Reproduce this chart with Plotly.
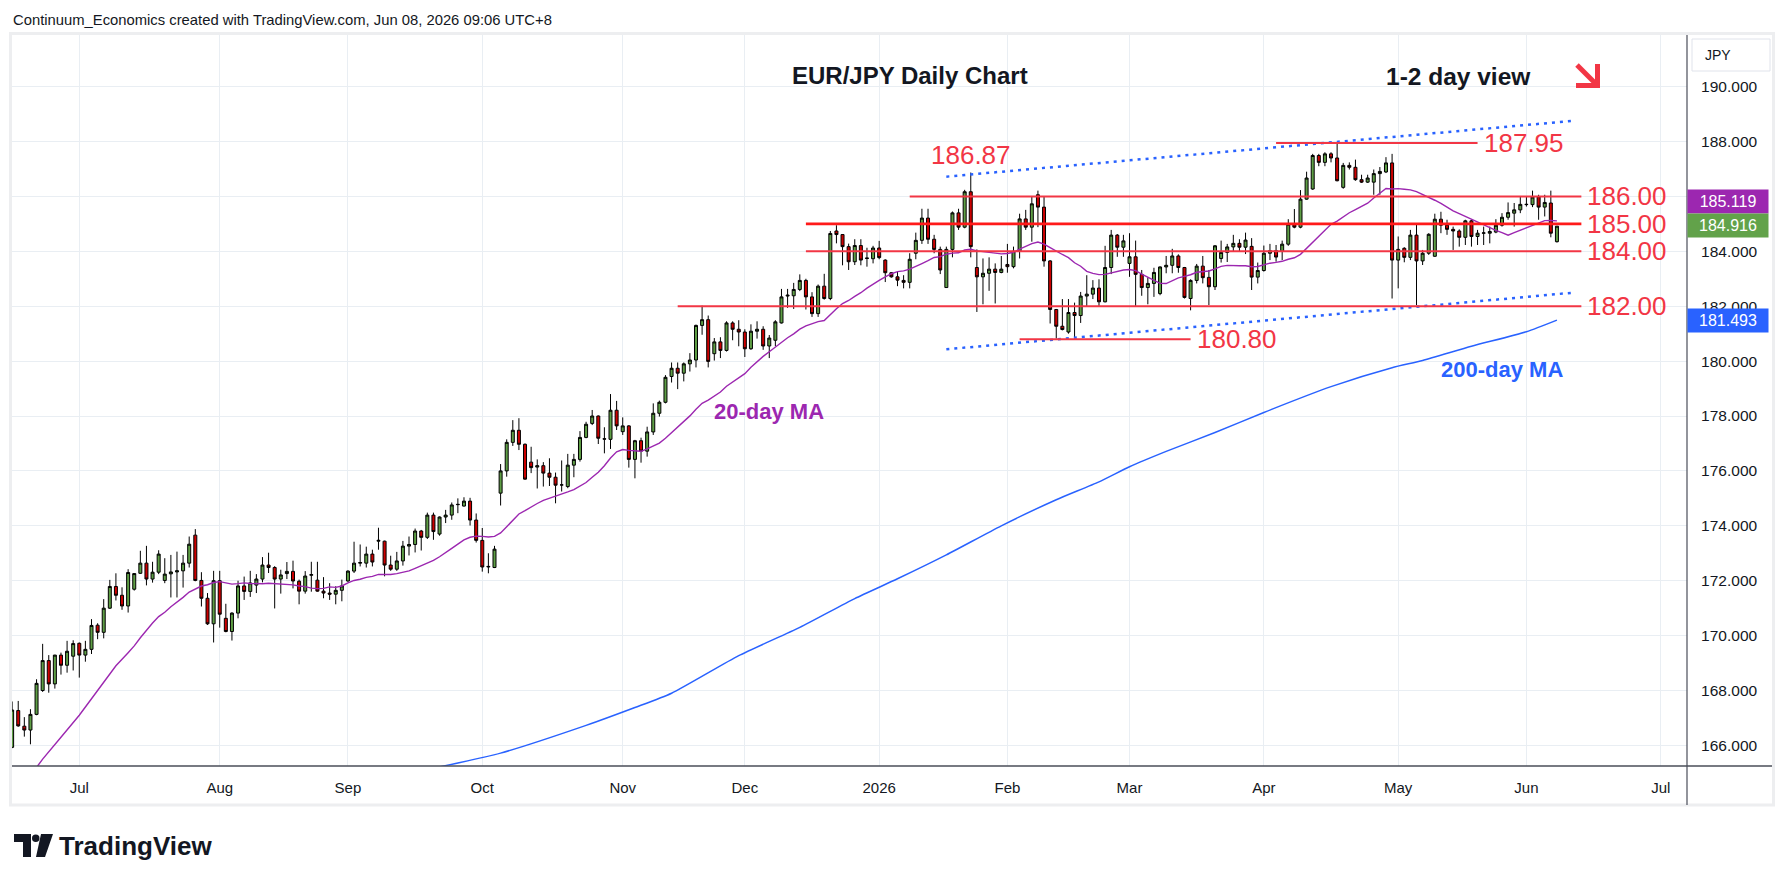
import numpy as np
import pandas as pd
import plotly.graph_objects as go

FONT = "Liberation Sans, Arial, sans-serif"
W, H = 1787, 881
OFF = 8                              # browser body margin
PL, PR, PT, PB = 12, 1687, 35, 766   # plot area in page pixels

# ---------------- data ----------------
first_day = "2025-06-16"
last_day = "2026-06-08"
axis_end_day = "2026-07-10"
holidays = ["2025-12-25", "2026-01-01"]

open_ = [165.93, 167.27, 166.70, 166.56, 167.13, 168.00, 169.09, 168.24, 169.29, 168.92,
         169.25, 169.72, 169.29, 169.50, 170.38, 170.12, 171.00, 171.79, 171.47, 171.08,
         171.69, 172.27, 172.64, 172.06, 172.31, 172.01, 172.25, 172.32, 172.36, 172.64,
         173.66, 172.01, 171.36, 170.43, 172.00, 170.63, 170.15, 170.82, 171.81, 171.61,
         171.84, 172.06, 172.57, 172.48, 172.06, 172.26, 172.34, 171.98, 171.62, 172.20,
         172.02, 171.62, 171.55, 171.51, 171.65, 171.99, 172.35, 172.64, 172.64, 172.97,
         173.44, 173.44, 172.57, 172.42, 172.72, 173.26, 173.32, 173.81, 173.58, 174.39,
         173.70, 174.32, 174.39, 174.77, 174.72, 174.90, 174.21, 173.47, 172.50, 172.48,
         175.19, 176.00, 177.04, 177.48, 176.97, 176.32, 176.14, 176.19, 175.92, 175.77,
         175.49, 175.43, 176.21, 176.42, 177.22, 177.73, 178.00, 177.17, 177.15, 178.21,
         177.43, 177.64, 176.42, 177.10, 176.72, 177.42, 178.10, 178.50, 179.44, 179.74,
         179.56, 179.90, 180.04, 181.30, 181.51, 180.27, 180.70, 180.39, 181.39, 181.16,
         181.06, 180.45, 181.09, 181.16, 180.55, 180.76, 181.39, 182.37, 182.38, 182.61,
         182.94, 182.34, 181.73, 182.73, 182.28, 184.74, 184.61, 184.17, 183.62, 184.21,
         183.76, 183.73, 184.12, 183.68, 183.22, 183.07, 182.94, 182.87, 183.93, 184.40,
         185.21, 184.44, 184.07, 182.68, 184.07, 185.40, 184.88, 186.17, 183.41, 183.07,
         183.20, 183.35, 183.23, 183.52, 183.44, 184.00, 185.18, 184.88, 186.06, 185.61,
         183.65, 181.88, 181.27, 181.06, 181.77, 181.66, 182.37, 182.44, 182.66, 182.16,
         183.41, 184.59, 184.15, 183.56, 183.80, 183.16, 182.68, 182.83, 182.46, 183.43,
         183.49, 183.83, 183.41, 182.28, 182.94, 183.46, 183.05, 182.71, 183.74, 183.96,
         184.16, 184.29, 184.15, 184.18, 183.06, 183.30, 183.93, 184.02, 184.00, 184.26,
         184.99, 184.88, 185.90, 186.27, 187.49, 187.24, 187.55, 187.40, 186.33, 187.13,
         187.06, 186.61, 186.52, 186.52, 186.83, 186.89, 187.22, 183.68, 184.11, 183.78,
         184.59, 183.65, 183.93, 183.82, 185.17, 184.95, 184.80, 184.74, 184.51, 185.11,
         184.54, 184.66, 184.66, 184.70, 184.95, 185.24, 185.39, 185.51, 185.70, 185.70,
         185.98, 185.61, 185.76, 184.35]
high = [167.60, 167.62, 167.03, 167.32, 168.41, 169.70, 169.29, 169.30, 169.38, 169.81,
        169.83, 169.75, 169.81, 170.60, 170.45, 171.33, 172.03, 172.27, 171.76, 172.42,
        172.27, 173.09, 173.27, 172.69, 173.11, 172.82, 172.94, 173.06, 172.94, 173.61,
        173.88, 172.31, 171.55, 172.36, 172.36, 171.16, 170.85, 172.00, 172.15, 172.36,
        172.24, 172.86, 173.02, 172.53, 172.40, 172.68, 172.73, 172.04, 172.35, 172.69,
        172.69, 172.13, 171.91, 171.80, 172.04, 172.38, 173.42, 173.32, 173.24, 173.13,
        173.93, 173.46, 172.91, 173.05, 173.45, 173.61, 173.90, 173.85, 174.48, 174.48,
        174.34, 174.58, 174.85, 175.00, 175.04, 175.02, 174.45, 173.92, 173.00, 173.27,
        176.25, 177.15, 177.85, 177.92, 177.00, 176.88, 176.42, 176.32, 176.46, 175.94,
        176.38, 176.62, 176.62, 177.45, 177.79, 178.22, 178.02, 177.59, 178.80, 178.55,
        177.95, 177.67, 177.13, 177.21, 177.61, 178.46, 178.56, 179.49, 179.95, 179.95,
        179.95, 180.29, 181.33, 182.02, 181.66, 180.84, 180.87, 181.45, 181.45, 181.49,
        181.16, 181.34, 181.45, 181.27, 180.95, 181.49, 182.63, 182.63, 182.85, 183.16,
        183.00, 182.51, 182.79, 183.18, 184.74, 184.95, 184.62, 184.28, 184.44, 184.44,
        184.13, 184.20, 184.38, 183.71, 183.24, 183.26, 183.13, 183.93, 184.68, 185.55,
        185.55, 184.60, 184.17, 184.17, 185.45, 185.55, 186.24, 186.87, 184.07, 183.74,
        183.78, 183.56, 183.83, 184.27, 184.17, 185.37, 185.51, 186.00, 186.21, 186.00,
        183.68, 181.90, 182.26, 182.26, 182.13, 182.52, 183.13, 182.95, 182.98, 184.20,
        184.78, 184.63, 184.60, 184.66, 184.39, 183.32, 183.05, 183.40, 183.45, 183.83,
        184.09, 183.89, 183.43, 182.98, 183.54, 183.83, 183.32, 184.23, 184.39, 184.27,
        184.60, 184.44, 184.68, 184.48, 183.59, 184.21, 184.27, 184.23, 184.39, 185.17,
        185.54, 186.23, 186.90, 187.55, 187.55, 187.61, 187.61, 187.95, 187.22, 187.24,
        187.34, 186.79, 186.79, 186.98, 187.07, 187.43, 187.55, 184.54, 184.15, 184.78,
        185.02, 184.05, 184.66, 185.37, 185.44, 185.15, 184.90, 184.80, 185.15, 185.15,
        184.78, 184.90, 184.90, 185.17, 185.39, 185.78, 185.76, 185.98, 186.00, 186.21,
        186.06, 186.06, 186.21, 184.92]
low = [165.90, 166.68, 166.32, 166.04, 167.10, 167.95, 167.92, 168.07, 168.58, 168.65,
       168.73, 168.47, 169.05, 169.33, 169.87, 169.90, 170.97, 171.28, 170.94, 170.84,
       171.64, 172.25, 171.83, 171.93, 172.24, 171.91, 171.39, 171.39, 171.75, 172.48,
       171.98, 171.06, 170.39, 169.75, 170.29, 170.12, 169.82, 170.63, 171.30, 171.41,
       171.55, 171.94, 172.28, 170.99, 171.53, 172.06, 171.72, 171.14, 171.53, 171.60,
       171.60, 171.36, 171.30, 171.14, 171.25, 171.96, 172.28, 172.52, 172.48, 172.52,
       173.13, 172.16, 172.36, 172.36, 172.55, 172.92, 173.03, 173.10, 173.52, 173.49,
       173.64, 174.10, 174.22, 174.46, 174.70, 174.01, 173.39, 172.33, 172.27, 172.46,
       174.74, 175.79, 176.91, 176.76, 175.68, 175.92, 175.36, 175.43, 175.45, 174.82,
       175.25, 175.37, 175.77, 176.34, 177.19, 177.67, 176.98, 176.64, 176.80, 177.49,
       177.31, 176.12, 175.73, 176.30, 176.52, 177.31, 177.98, 178.46, 179.22, 178.98,
       179.26, 179.62, 179.77, 180.96, 179.77, 180.02, 180.11, 180.35, 180.76, 180.54,
       180.15, 180.41, 180.82, 180.41, 180.11, 180.54, 181.37, 181.94, 181.90, 182.55,
       181.88, 181.61, 181.61, 182.24, 182.22, 184.29, 183.49, 183.32, 183.50, 183.49,
       183.44, 183.56, 183.71, 182.88, 183.04, 182.73, 182.65, 182.65, 183.71, 184.27,
       184.27, 183.93, 183.17, 182.68, 183.78, 184.78, 184.84, 183.78, 181.79, 182.07,
       182.56, 182.10, 183.20, 183.22, 183.38, 183.74, 184.78, 184.35, 184.88, 183.44,
       181.37, 180.82, 181.12, 181.00, 180.82, 181.39, 182.00, 182.26, 181.98, 182.14,
       183.17, 183.80, 183.80, 183.07, 182.01, 182.38, 182.07, 182.34, 182.40, 183.20,
       183.20, 183.22, 182.28, 181.85, 182.83, 182.83, 182.04, 182.59, 183.59, 183.61,
       183.99, 183.99, 183.90, 182.59, 182.83, 183.26, 183.68, 183.62, 183.68, 184.20,
       184.84, 184.84, 185.88, 186.24, 187.10, 187.10, 187.24, 186.55, 186.28, 186.98,
       186.57, 186.49, 186.49, 186.06, 186.06, 186.85, 182.28, 182.65, 183.60, 183.68,
       182.04, 183.50, 183.87, 183.80, 184.66, 184.60, 184.05, 184.17, 184.23, 184.17,
       184.23, 184.23, 184.29, 184.66, 184.90, 185.15, 184.90, 185.39, 185.63, 185.61,
       185.15, 185.27, 184.51, 184.32]
close = [167.29, 166.71, 166.56, 167.13, 168.26, 169.09, 168.24, 169.29, 168.92, 169.43,
         169.71, 169.29, 169.50, 170.37, 170.12, 171.00, 171.79, 171.47, 171.08, 172.30,
         172.26, 172.64, 172.06, 172.31, 172.97, 172.24, 172.32, 172.36, 172.64, 173.33,
         172.01, 171.36, 170.43, 172.00, 170.78, 170.15, 170.82, 171.81, 171.61, 171.92,
         172.06, 172.57, 172.48, 172.06, 172.21, 172.34, 171.99, 171.62, 172.17, 172.22,
         171.62, 171.55, 171.51, 171.65, 171.81, 172.35, 172.64, 172.66, 172.97, 172.68,
         173.47, 172.57, 172.42, 172.72, 173.26, 173.32, 173.81, 173.58, 174.39, 173.79,
         174.32, 174.39, 174.76, 174.78, 174.90, 174.21, 173.47, 172.50, 172.52, 173.15,
         176.00, 177.04, 177.48, 176.97, 175.70, 176.12, 176.19, 175.92, 175.77, 175.48,
         175.49, 176.21, 176.42, 177.22, 177.70, 178.00, 177.19, 177.16, 178.21, 177.64,
         177.64, 176.42, 177.10, 176.72, 177.42, 178.10, 178.50, 179.41, 179.74, 179.56,
         179.90, 180.04, 181.30, 181.51, 179.99, 180.70, 180.39, 181.39, 181.16, 181.06,
         180.45, 181.09, 181.16, 180.55, 180.84, 181.43, 182.34, 182.40, 182.61, 182.94,
         182.34, 181.73, 182.73, 182.28, 184.65, 184.61, 184.17, 183.62, 184.21, 183.68,
         183.74, 184.12, 183.77, 183.22, 183.07, 182.95, 182.87, 183.71, 184.40, 185.21,
         184.44, 184.07, 183.32, 184.07, 185.40, 184.88, 186.17, 184.17, 183.07, 183.20,
         183.35, 183.23, 183.35, 183.44, 184.00, 185.18, 184.88, 185.73, 185.61, 183.65,
         181.88, 181.27, 181.15, 181.77, 181.66, 182.37, 182.44, 182.66, 182.16, 183.41,
         184.59, 184.15, 184.38, 183.80, 183.16, 182.68, 182.83, 183.23, 183.43, 183.49,
         183.83, 183.41, 182.32, 182.94, 183.46, 183.04, 182.71, 184.20, 183.96, 184.16,
         184.29, 184.15, 184.41, 183.06, 183.30, 183.93, 184.02, 183.79, 184.26, 184.99,
         184.88, 185.90, 186.67, 187.49, 187.24, 187.55, 187.40, 186.57, 187.13, 187.06,
         186.61, 186.52, 186.67, 186.83, 186.91, 187.22, 183.68, 184.07, 183.78, 184.59,
         183.65, 183.93, 184.62, 185.17, 184.95, 184.80, 184.74, 184.51, 185.11, 184.54,
         184.66, 184.67, 184.72, 184.95, 185.24, 185.41, 185.51, 185.71, 185.71, 185.98,
         185.61, 185.78, 184.66, 184.916]

# 20-day MA: values for the first bars (history before the window)
ma20_early_dates = ["2025-06-18", "2025-06-23", "2025-06-26", "2025-07-01", "2025-07-04", "2025-07-09"]
ma20_early_values = [164.6, 165.5, 166.3, 167.1, 168.0, 168.9]
ma20_last_label = 185.119

# 200-day MA
ma200_dates = ["2025-09-19", "2025-10-06", "2025-10-24", "2025-11-05", "2025-11-13", "2025-11-28",
               "2025-12-12", "2025-12-26", "2026-01-07", "2026-01-19", "2026-01-30", "2026-02-12",
               "2026-02-23", "2026-03-02", "2026-03-10", "2026-03-20", "2026-04-01", "2026-04-16",
               "2026-04-30", "2026-05-07", "2026-05-19", "2026-06-01", "2026-06-08"]
ma200_values = [165.17, 165.72, 166.73, 167.38, 167.90, 169.27,
                170.30, 171.35, 172.07, 172.94, 174.00, 174.95,
                175.60, 176.15, 176.71, 177.40, 178.13, 179.07,
                179.76, 180.02, 180.54, 181.07, 181.493]

# analyst levels and trend lines
levels = [187.95, 186.00, 185.00, 184.00, 182.00, 180.80]
level_start = ["2026-04-03", "2026-01-09", "2025-12-15", "2025-12-15", "2025-11-14", "2026-02-04"]
level_end = ["2026-05-20", "2026-06-12", "2026-06-12", "2026-06-12", "2026-06-12", "2026-03-16"]
trend_dates = ["2026-01-19", "2026-06-11"]
trend_upper = [186.72, 188.76]
trend_lower = [180.43, 182.50]
swing_high_date, swing_high = "2026-01-23", 186.87

month_labels = ["Jul", "Aug", "Sep", "Oct", "Nov", "Dec", "2026", "Feb", "Mar", "Apr", "May", "Jun", "Jul"]
price_ticks = [166, 168, 170, 172, 174, 176, 178, 180, 182, 184, 186, 188, 190]
hidden_tick = 186   # covered by the MA price box in the original

# ---------------- bar index scale (trading days) ----------------
hol = set(pd.to_datetime(holidays))
all_days = [d for d in pd.bdate_range(first_day, axis_end_day) if d not in hol]
pos = {d.strftime("%Y-%m-%d"): i for i, d in enumerate(all_days)}
n = len(close)
bars = list(range(n))

month_idx = []
prev = None
for i, d in enumerate(all_days):
    key = (d.year, d.month)
    if key != prev and i > 0:
        month_idx.append(i)
    prev = key
month_idx = month_idx[:len(month_labels)]

ma20_calc = pd.Series(close).rolling(20).mean()
ma20_x = [pos[d] for d in ma20_early_dates] + list(range(19, n))
ma20_y = ma20_early_values + list(ma20_calc.iloc[19:])
ma200_x = [pos[d] for d in ma200_dates]

price_text = ["" if t == hidden_tick else f"{t:.3f}" for t in price_ticks]


def pxx(x):
    return (x - PL) / (PR - PL)


def pxy(y):
    return (PB - y) / (PB - PT)


GREEN = "#5E9E45"
RED = "#CC0000"
LVL = "#F23645"
BLUE = "#2962FF"
PURPLE = "#9C27B0"
TXT = "#131722"

fig = go.Figure()
fig.add_trace(go.Scatter(x=ma200_x, y=ma200_values, mode="lines",
                         line=dict(color=BLUE, width=1.5, shape="spline", smoothing=0.6),
                         hoverinfo="skip"))
fig.add_trace(go.Scatter(x=ma20_x, y=ma20_y, mode="lines",
                         line=dict(color=PURPLE, width=1.4), hoverinfo="skip"))
fig.add_trace(go.Candlestick(
    x=bars, open=open_, high=high, low=low, close=close,
    increasing=dict(fillcolor=GREEN, line=dict(color="#000000", width=1)),
    decreasing=dict(fillcolor=RED, line=dict(color="#000000", width=1)),
    whiskerwidth=0, hoverinfo="skip"))

shapes = []
annotations = []


def note(**kw):
    kw.setdefault("showarrow", False)
    kw.setdefault("yanchor", "middle")
    kw.setdefault("xanchor", "center")
    annotations.append(kw)


def path(pts, close_path=True):
    s = "M " + " L ".join(f"{pxx(a)},{pxy(b)}" for a, b in pts)
    return s + (" Z" if close_path else "")


# trend lines
for ys in (trend_upper, trend_lower):
    shapes.append(dict(type="line", xref="x", yref="y",
                       x0=pos[trend_dates[0]], x1=pos[trend_dates[1]], y0=ys[0], y1=ys[1],
                       line=dict(color=BLUE, width=2.5, dash="3px,5px"), layer="above"))

# levels
for lv, s, e in zip(levels, level_start, level_end):
    strong = abs(lv - 185.0) < 1e-9
    shapes.append(dict(type="line", xref="x", yref="y", x0=pos[s], x1=pos[e], y0=lv, y1=lv,
                       line=dict(color="#FF1A1A" if strong else LVL, width=2.6 if strong else 2),
                       layer="above"))
    note(x=pos[e], y=lv, xref="x", yref="y", text=f"{lv:.2f}", xanchor="left", xshift=4,
         font=dict(family=FONT, size=26, color=LVL))

note(x=pos[swing_high_date], y=swing_high, xref="x", yref="y", text=f"{swing_high:.2f}",
     yanchor="bottom", yshift=1, font=dict(family=FONT, size=26, color=LVL))

# MA labels
note(x=pos["2025-12-05"], y=178.18, xref="x", yref="y", text="<b>20-day MA</b>",
     font=dict(family=FONT, size=22, color=PURPLE))
note(x=pos["2026-05-26"], y=179.71, xref="x", yref="y", text="<b>200-day MA</b>",
     font=dict(family=FONT, size=22, color=BLUE))

# titles
note(x=pxx(910), y=pxy(75), xref="paper", yref="paper", text="<b>EUR/JPY Daily Chart</b>",
     font=dict(family=FONT, size=24, color=TXT))
note(x=pxx(1384), y=pxy(77), xref="paper", yref="paper", xanchor="left",
     text="<b>1-2 day view</b>", font=dict(family=FONT, size=24.5, color=TXT))

# red arrow (diagonal shaft with a corner head)
shapes.append(dict(type="path", xref="paper", yref="paper",
                   path=path([(1577, 65), (1596, 84)], close_path=False),
                   line=dict(color=LVL, width=5), layer="above"))
shapes.append(dict(type="path", xref="paper", yref="paper",
                   path=path([(1576, 85.5), (1597.5, 85.5), (1597.5, 64)], close_path=False),
                   line=dict(color=LVL, width=5), layer="above"))

# header
note(x=pxx(11), y=pxy(20), xref="paper", yref="paper", xanchor="left",
     text="Continuum_Economics created with TradingView.com, Jun 08, 2026 09:06 UTC+8",
     font=dict(family=FONT, size=14.8, color=TXT))

# price boxes on the axis
box_items = [(f"{ma20_last_label:.3f}", PURPLE, 201.5),
             (f"{close[-1]:.3f}", "#62A24A", 226),
             (f"{ma200_values[-1]:.3f}", BLUE, 320)]
for txt, col, yc in box_items:
    note(x=pxx(PR), y=pxy(yc), xref="paper", yref="paper", xanchor="left", text=txt,
         bgcolor=col, width=78, height=21, borderpad=1, align="center",
         font=dict(family=FONT, size=16, color="#FFFFFF"))

# JPY box
shapes.append(dict(type="rect", xref="paper", yref="paper", x0=pxx(1692), x1=pxx(1770),
                   y0=pxy(71), y1=pxy(39), line=dict(color="#E0E3EB", width=1),
                   fillcolor="#FFFFFF", layer="above"))
note(x=pxx(1703), y=pxy(55), xref="paper", yref="paper", xanchor="left", text="JPY",
     font=dict(family=FONT, size=14, color=TXT))

# frame + axis lines
shapes.append(dict(type="rect", xref="paper", yref="paper", x0=pxx(10.5), x1=pxx(1773.5),
                   y0=pxy(805), y1=pxy(33.5), line=dict(color="#EDEEF0", width=3), layer="below"))
shapes.append(dict(type="line", xref="paper", yref="paper", x0=pxx(12), x1=pxx(1772),
                   y0=pxy(766), y1=pxy(766), line=dict(color="#4A4E59", width=1.5), layer="above"))
shapes.append(dict(type="line", xref="paper", yref="paper", x0=pxx(1687), x1=pxx(1687),
                   y0=pxy(35), y1=pxy(805), line=dict(color="#4A4E59", width=1.2), layer="above"))

# TradingView logo
shapes.append(dict(type="path", xref="paper", yref="paper",
                   path=path([(14, 834), (31, 834), (31, 857), (23, 857), (23, 842), (14, 842)]),
                   fillcolor="#131722", line=dict(width=0)))
shapes.append(dict(type="circle", xref="paper", yref="paper", x0=pxx(32), x1=pxx(39.5),
                   y0=pxy(842), y1=pxy(834.5), fillcolor="#131722", line=dict(width=0)))
shapes.append(dict(type="path", xref="paper", yref="paper",
                   path=path([(41, 834), (53, 834), (45, 857), (36, 857)]),
                   fillcolor="#131722", line=dict(width=0)))
note(x=pxx(57), y=pxy(845.5), xref="paper", yref="paper", xanchor="left",
     text="<b>TradingView</b>", font=dict(family=FONT, size=26, color="#131722"))

fig.update_layout(
    width=W - 2 * OFF, height=H - 2 * OFF,
    margin=dict(l=PL - OFF, r=(W - OFF) - PR, t=PT - OFF, b=(H - OFF) - PB, pad=0),
    paper_bgcolor="#FFFFFF", plot_bgcolor="#FFFFFF",
    showlegend=False,
    shapes=shapes, annotations=annotations,
    xaxis=dict(range=[-0.02, 274.3], tickmode="array", tickvals=month_idx, ticktext=month_labels,
               showgrid=True, gridcolor="#E9EEF3", gridwidth=1, zeroline=False, showline=False,
               ticks="outside", ticklen=8, tickcolor="rgba(0,0,0,0)",
               tickfont=dict(family=FONT, size=15, color=TXT),
               rangeslider=dict(visible=False), fixedrange=True),
    yaxis=dict(side="right", range=[165.25, 191.88], tickmode="array", tickvals=price_ticks,
               ticktext=price_text, showgrid=True, gridcolor="#E9EEF3", gridwidth=1,
               zeroline=False, showline=False, ticks="outside", ticklen=10,
               tickcolor="rgba(0,0,0,0)", tickfont=dict(family=FONT, size=15.5, color=TXT),
               fixedrange=True),
)

fig.write_html("out.html")
